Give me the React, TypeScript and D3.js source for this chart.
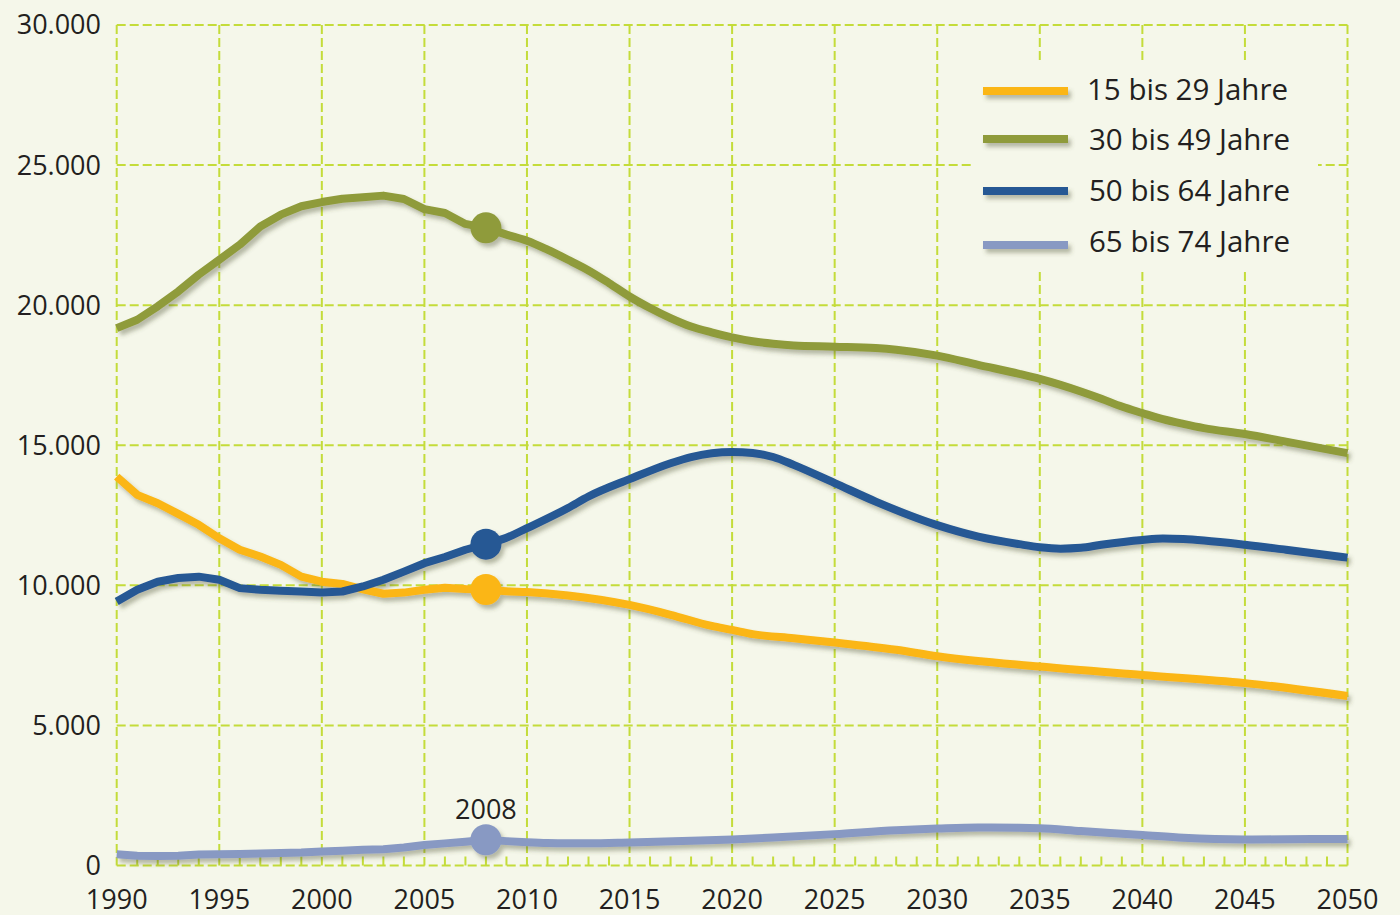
import React from "react";
import * as d3 from "d3";

// ---- data ----
const yTicks = [0, 5000, 10000, 15000, 20000, 25000, 30000];
const xTicks = [1990, 1995, 2000, 2005, 2010, 2015, 2020, 2025, 2030, 2035, 2040, 2045, 2050];
const seriesNames = ["15 bis 29 Jahre", "30 bis 49 Jahre", "50 bis 64 Jahre", "65 bis 74 Jahre"];
const seriesColors = ["#fbb616", "#8f9b3b", "#265894", "#8899c3"];
const markerYear = 2008;

const age15to29: [number, number][] = [
  [1990, 13880], [1991, 13230], [1992, 12930], [1993, 12550], [1994, 12160], [1995, 11680],
  [1996, 11270], [1997, 11030], [1998, 10730], [1999, 10310], [2000, 10130], [2001, 10050],
  [2002, 9860], [2003, 9700], [2004, 9740], [2005, 9840], [2006, 9910], [2007, 9870],
  [2008, 9850], [2009, 9790], [2010, 9760], [2012, 9640], [2015, 9300], [2017, 8950],
  [2019, 8550], [2020, 8410], [2021, 8260], [2023, 8110], [2025, 7960], [2028, 7700],
  [2030, 7470], [2035, 7100], [2040, 6800], [2045, 6510], [2050, 6050],
];
const age30to49: [number, number][] = [
  [1990, 19180], [1991, 19480], [1992, 19960], [1993, 20490], [1994, 21090], [1995, 21620],
  [1996, 22160], [1997, 22810], [1998, 23230], [1999, 23530], [2000, 23680], [2001, 23800],
  [2002, 23850], [2003, 23910], [2004, 23790], [2005, 23430], [2006, 23290], [2007, 22900],
  [2008, 22760], [2009, 22520], [2010, 22300], [2011, 21980], [2012, 21620], [2013, 21240],
  [2014, 20790], [2015, 20310], [2016, 19900], [2017, 19540], [2018, 19240], [2019, 19030],
  [2020, 18850], [2021, 18710], [2022, 18620], [2023, 18560], [2025, 18520], [2027, 18470],
  [2028, 18410], [2030, 18200], [2032, 17870], [2034, 17550], [2035, 17370], [2037, 16920],
  [2038, 16660], [2039, 16380], [2040, 16150], [2041, 15930], [2042, 15760], [2043, 15610],
  [2045, 15400], [2047, 15130], [2050, 14720],
];
const age50to64: [number, number][] = [
  [1990, 9420], [1991, 9840], [1992, 10130], [1993, 10260], [1994, 10310], [1995, 10200],
  [1996, 9900], [1997, 9840], [1998, 9810], [1999, 9780], [2000, 9740], [2001, 9780],
  [2002, 9960], [2003, 10200], [2004, 10490], [2005, 10790], [2006, 11010], [2007, 11270],
  [2008, 11470], [2009, 11700], [2010, 12040], [2012, 12760], [2013, 13170], [2015, 13790],
  [2017, 14360], [2018, 14580], [2020, 14760], [2021, 14720], [2022, 14580], [2023, 14300],
  [2025, 13650], [2027, 12990], [2030, 12150], [2032, 11740], [2034, 11470], [2035, 11360],
  [2036, 11310], [2037, 11340], [2038, 11450], [2040, 11620], [2041, 11670], [2042, 11650],
  [2043, 11600], [2045, 11450], [2047, 11270], [2050, 10990],
];
const age65to74: [number, number][] = [
  [1990, 400], [1991, 350], [1992, 340], [1993, 350], [1994, 390], [1995, 400],
  [1996, 410], [1997, 430], [1998, 450], [1999, 460], [2000, 500], [2001, 530],
  [2002, 560], [2003, 580], [2004, 640], [2005, 730], [2006, 790], [2007, 850],
  [2008, 920], [2009, 870], [2010, 830], [2011, 800], [2012, 790], [2013, 790],
  [2015, 820], [2018, 880], [2020, 930], [2022, 1000], [2025, 1120], [2028, 1260],
  [2030, 1320], [2032, 1360], [2034, 1350], [2035, 1330], [2037, 1230], [2040, 1090],
  [2042, 990], [2045, 930], [2047, 940], [2050, 950],
];
const seriesData = [age15to29, age30to49, age50to64, age65to74];

// ---- layout ----
const W = 1400;
const H = 915;
const x0 = 116.7, x1 = 1347.5;
const yTop = 25, yBottom = 865.5;
const gridColor = "#c4dc3a";
const bg = "#f5f7ea";
const font = "'Open Sans', 'DejaVu Sans', sans-serif";

export default function App() {
  const x = d3.scaleLinear().domain([1990, 2050]).range([x0, x1]);
  const y = d3.scaleLinear().domain([0, 30000]).range([yBottom, yTop]);
  const histLine = d3
    .line<[number, number]>()
    .x((d) => x(d[0]))
    .y((d) => y(d[1]))
    .curve(d3.curveLinear);
  const projLine = d3
    .line<[number, number]>()
    .x((d) => x(d[0]))
    .y((d) => y(d[1]))
    .curve(d3.curveMonotoneX);
  const seriesPath = (s: [number, number][]) => {
    const hist = s.filter((d) => d[0] <= markerYear);
    const proj = s.filter((d) => d[0] >= markerYear);
    const a = histLine(hist) || "";
    const b = (projLine(proj) || "").replace(/^M[^A-Za-z]*/, "");
    return a + b;
  };

  const minorYears = d3.range(1990, 2051).filter((v) => v % 5 !== 0);
  const legendLineY = [91, 139, 191, 245];
  const legendTextY = [90, 140, 191, 242];
  const legendTextX = [1087, 1089, 1089, 1089];

  return (
    <svg
      width={W}
      height={H}
      style={{ position: "absolute", left: 0, top: 0, display: "block" }}
      fontFamily={font}
    >
      <defs>
        <filter id="shadow" filterUnits="userSpaceOnUse" x="0" y="0" width={W} height={H}>
          <feDropShadow dx="3" dy="4" stdDeviation="2.2" floodColor="#4d4f35" floodOpacity="0.38" />
        </filter>
      </defs>
      <rect x={0} y={0} width={W} height={H} fill={bg} />

      {/* grid */}
      <g stroke={gridColor} strokeWidth={2} strokeDasharray="9,4" fill="none">
        {yTicks.map((t) => (
          <line key={"h" + t} x1={x0} x2={x1} y1={y(t)} y2={y(t)} />
        ))}
        {xTicks.map((t) => (
          <line key={"v" + t} x1={x(t)} x2={x(t)} y1={yTop} y2={yBottom} />
        ))}
      </g>
      <g stroke={gridColor} strokeWidth={2}>
        {minorYears.map((t) => (
          <line key={"m" + t} x1={x(t)} x2={x(t)} y1={yBottom - 9} y2={yBottom} />
        ))}
      </g>

      {/* legend background */}
      <rect x={972} y={63} width={346} height={207} fill={bg} />

      {/* y labels */}
      <g fontSize={27} fill="#231f20" textAnchor="end">
        {yTicks.map((t) => (
          <text key={"yl" + t} x={101} y={y(t)} dy="0.35em">
            {t === 0 ? "0" : d3.format(",")(t).replace(/,/g, ".")}
          </text>
        ))}
      </g>
      {/* x labels */}
      <g fontSize={27} fill="#231f20" textAnchor="middle">
        {xTicks.map((t) => (
          <text key={"xl" + t} x={x(t)} y={909}>
            {t}
          </text>
        ))}
      </g>

      {/* lines */}
      <g filter="url(#shadow)">
        {seriesData.map((s, i) => (
          <path key={"l" + i} d={seriesPath(s)} fill="none" stroke={seriesColors[i]} strokeWidth={8} strokeLinejoin="round" />
        ))}
        {seriesData.map((s, i) => {
          const p = s.find((d) => d[0] === markerYear)!;
          return <circle key={"c" + i} cx={x(p[0])} cy={y(p[1])} r={15.5} fill={seriesColors[i]} />;
        })}
      </g>

      <text x={x(markerYear)} y={819} fontSize={27} fill="#231f20" textAnchor="middle">
        {markerYear}
      </text>

      {/* legend */}
      <g>
        {seriesNames.map((n, i) => (
          <g key={"lg" + i}>
            <rect
              x={983}
              y={legendLineY[i] - 4}
              width={85}
              height={8}
              fill={seriesColors[i]}
              filter="url(#shadow)"
            />
            <text x={legendTextX[i]} y={legendTextY[i]} dy="0.35em" fontSize={29.5} fill="#231f20">
              {n}
            </text>
          </g>
        ))}
      </g>
    </svg>
  );
}
